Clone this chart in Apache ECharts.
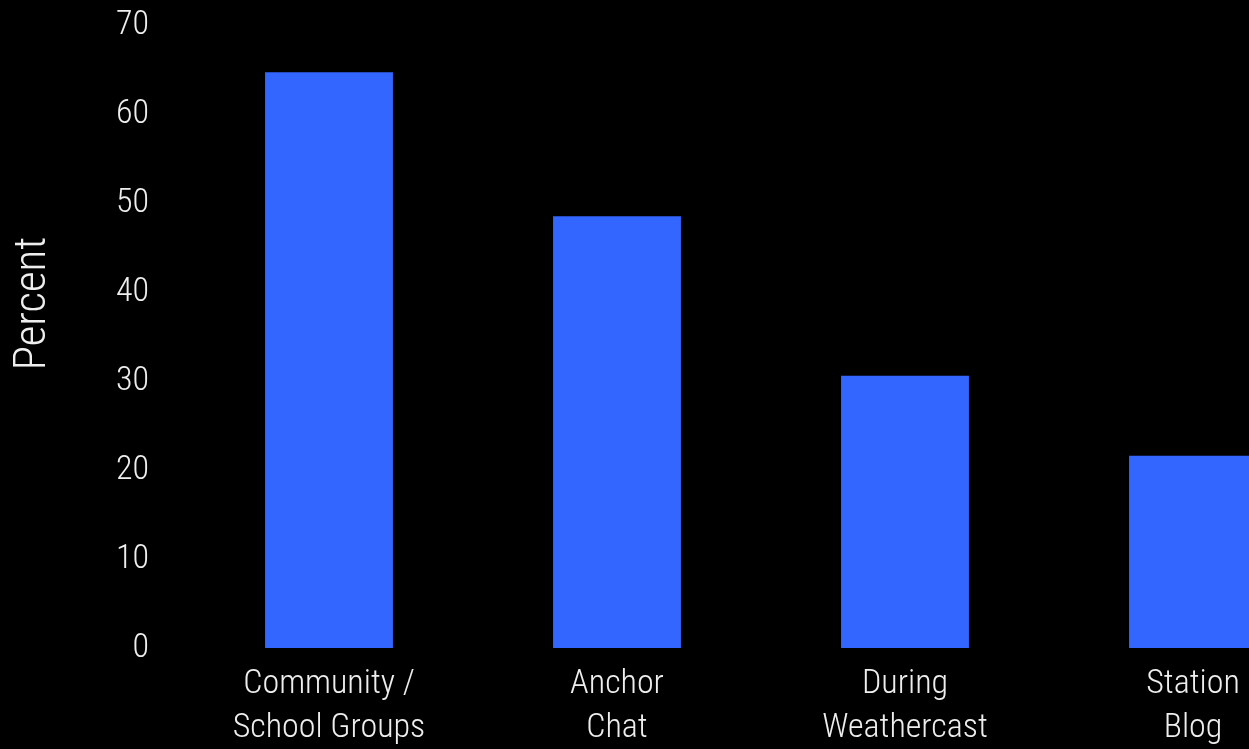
<!DOCTYPE html>
<html>
<head>
<meta charset="utf-8">
<style>
html,body{margin:0;padding:0;background:#000;}
#chart{width:1249px;height:749px;}
</style>
<script src="https://cdn.jsdelivr.net/npm/echarts@6/dist/echarts.min.js"></script>
</head>
<body>
<div id="chart"></div>
<script>
const categories = ["Community /\nSchool Groups", "Anchor\nChat", "During\nWeathercast", "Station\nBlog"];
const percentValues = [64.7, 48.5, 30.6, 21.6];
const yAxisName = "Percent";

const FONT = "'Roboto Condensed', 'Liberation Sans Narrow', sans-serif";
const TEXT = "#eeeeee";
const chart = echarts.init(document.getElementById('chart'), null, {renderer: 'canvas'});
chart.setOption({
  backgroundColor: '#000000',
  animation: false,
  grid: {left: 185, width: 1152, top: 25, height: 623, containLabel: false, outerBoundsMode: 'none'},
  xAxis: {
    type: 'category',
    data: categories,
    axisLine: {show: false},
    axisTick: {show: false},
    axisLabel: {color: TEXT, fontFamily: FONT, fontWeight: 300, fontSize: 34, lineHeight: 44, margin: 14, interval: 0}
  },
  yAxis: {
    type: 'value',
    min: 0, max: 70, interval: 10,
    name: yAxisName,
    nameLocation: 'middle',
    nameGap: 129,
    nameRotate: 90,
    nameTextStyle: {color: TEXT, fontFamily: FONT, fontWeight: 300, fontSize: 45, padding: [0, 0, 0, 66]},
    splitLine: {show: false},
    axisLine: {show: false},
    axisTick: {show: false},
    axisLabel: {color: TEXT, fontFamily: FONT, fontWeight: 300, fontSize: 34, margin: 36}
  },
  series: [{
    type: 'bar',
    data: percentValues,
    barWidth: '44.4%',
    itemStyle: {color: '#3366FF'}
  }]
});
</script>
</body>
</html>
